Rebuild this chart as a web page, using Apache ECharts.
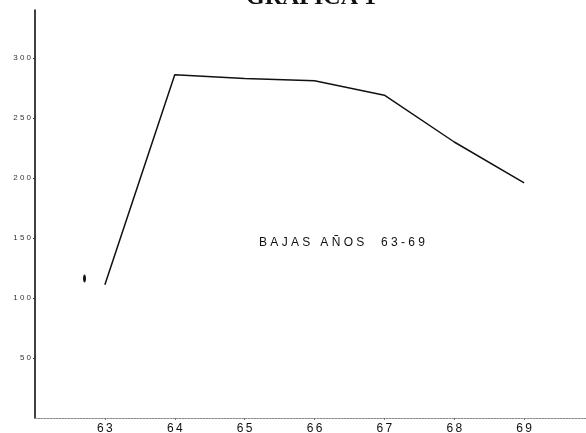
<!DOCTYPE html>
<html>
<head>
<meta charset="utf-8">
<title>GRAFICA 1</title>
<script src="https://cdn.jsdelivr.net/npm/echarts@6/dist/echarts.min.js"></script>
<style>
  html, body { margin: 0; padding: 0; background: #fff; }
  #chart { width: 586px; height: 433px; }
</style>
</head>
<body>
<div id="chart"></div>
<script>
// años 63-69 y bajas
var years = [63, 64, 65, 66, 67, 68, 69];
var bajas = [111, 286, 283, 281, 269, 230, 196];
var yTicks = [50, 100, 150, 200, 250, 300];

// separa los digitos como en el original
function spaced(v, sep) {
  return String(v).split("").join(sep);
}

var chart = echarts.init(document.getElementById("chart"), null, { renderer: "canvas" });

var option = {
  backgroundColor: "#ffffff",
  animation: false,
  grid: { left: 35, width: 559, top: 10, bottom: 15, outerBoundsMode: "none", containLabel: false },
  xAxis: {
    type: "value",
    min: 62,
    max: 70,
    interval: 1,
    splitLine: { show: false },
    axisLine: { lineStyle: { color: "#8a8a8a", width: 1, type: [2, 1] } },
    axisTick: { customValues: years, length: 2, lineStyle: { color: "#777" } },
    axisLabel: {
      customValues: years,
      margin: 5,
      fontFamily: "Liberation Sans",
      fontSize: 12,
      color: "#111",
      formatter: function (v) { return spaced(v, "\u2009"); }
    }
  },
  yAxis: {
    type: "value",
    min: 0,
    max: 340,
    interval: 50,
    splitLine: { show: false },
    axisLine: { lineStyle: { color: "#111", width: 1.6 } },
    axisTick: { customValues: yTicks, length: 2, lineStyle: { color: "#333" } },
    axisLabel: {
      customValues: yTicks,
      margin: 4,
      fontFamily: "Liberation Sans",
      fontSize: 8,
      color: "#333",
      formatter: function (v) { return spaced(v, " "); }
    }
  },
  series: [
    {
      type: "line",
      data: years.map(function (y, i) { return [y, bajas[i]]; }),
      showSymbol: false,
      lineStyle: { color: "#111", width: 1.5 }
    }
  ],
  graphic: [
    {
      type: "text",
      x: 311,
      y: -14,
      style: {
        text: "GRAFICA 1",
        font: "bold 24px 'Liberation Serif'",
        fill: "#111",
        textAlign: "center",
        textVerticalAlign: "top"
      }
    },
    {
      type: "text",
      x: 342,
      y: 243,
      style: {
        text: "B A J A S   A Ñ O S     6 3 - 6 9",
        font: "12px 'Liberation Sans'",
        fill: "#111",
        textAlign: "center",
        textVerticalAlign: "middle"
      }
    },
    {
      type: "ellipse",
      shape: { cx: 84.5, cy: 278.5, rx: 1.5, ry: 4 },
      style: { fill: "#111" }
    }
  ]
};

chart.setOption(option);
</script>
</body>
</html>
